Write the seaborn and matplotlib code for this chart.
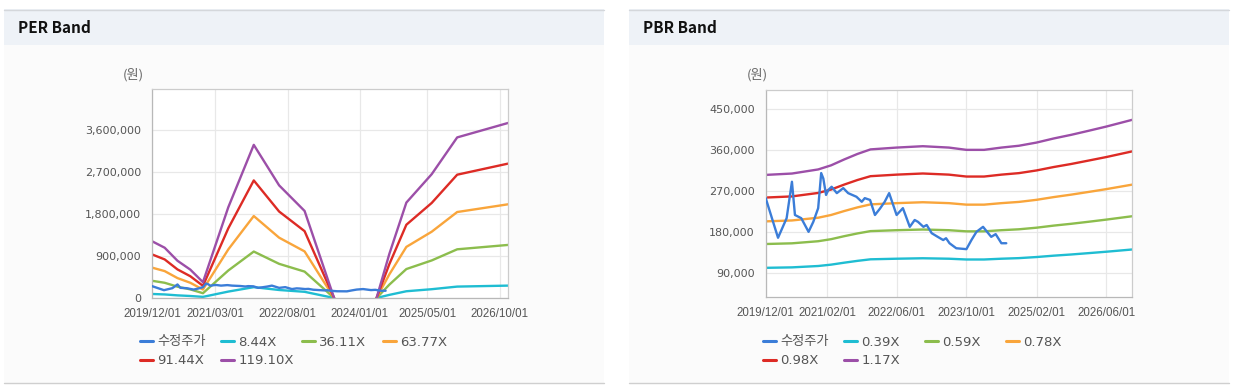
import numpy as np
import pandas as pd
import matplotlib
matplotlib.use("Agg")
import matplotlib.pyplot as plt
from matplotlib.patches import Rectangle
from matplotlib.lines import Line2D
import seaborn as sns

# ---------------- data ----------------
price_dates = ["2019-12-01", "2020-02-25", "2020-04-25", "2020-06-01", "2020-06-22", "2020-08-05",
               "2020-09-25", "2020-10-28", "2020-12-01", "2020-12-22", "2021-01-06", "2021-01-25",
               "2021-02-10", "2021-03-05", "2021-04-10", "2021-05-25", "2021-06-28", "2021-08-25",
               "2021-10-01", "2021-10-22", "2021-11-28", "2022-01-01", "2022-02-05", "2022-03-10",
               "2022-04-10", "2022-06-01", "2022-07-15", "2022-09-01", "2022-10-05", "2022-10-28",
               "2022-12-05", "2022-12-28", "2023-02-01", "2023-03-15", "2023-04-22", "2023-05-12",
               "2023-06-05", "2023-07-22", "2023-10-01", "2023-11-05", "2023-12-10", "2024-01-25",
               "2024-03-01", "2024-03-22", "2024-04-22", "2024-06-01", "2024-07-05"]
price_values = [255000, 168000, 211000, 291000, 218000, 211000,
                181000, 203000, 233000, 310000, 298000, 262000,
                273000, 280000, 266000, 277000, 266000, 258000,
                247000, 255000, 251000, 218000, 232000, 247000,
                266000, 218000, 233000, 192000, 207000, 203000,
                192000, 196000, 178000, 170000, 163000, 167000,
                156000, 145000, 143000, 163000, 181000, 192000,
                178000, 170000, 176000, 156000, 156000]

per_dates = ["2019-12-01", "2020-03-01", "2020-06-01", "2020-09-01", "2020-12-01", "2021-06-01",
             "2021-12-01", "2022-06-01", "2022-12-01", "2023-07-01", "2024-01-01", "2024-05-01",
             "2024-08-01", "2024-12-01", "2025-06-01", "2025-12-01", "2026-12-01"]
nan = float("nan")
per_8_44 = [86500, 76500, 56700, 43200, 24100, 138000, 233000, 172000, 133000, 0, nan, 0,
            67300, 145000, 189000, 245000, 266000]
per_36_11 = [370000, 327000, 243000, 185000, 103000, 591000, 998000, 734000, 567000, 0, nan, 0,
             288000, 622000, 807000, 1046000, 1140000]
per_63_77 = [653000, 578000, 428000, 327000, 182000, 1044000, 1761000, 1296000, 1001000, 0, nan, 0,
             509000, 1098000, 1424000, 1847000, 2013000]
per_91_44 = [937000, 829000, 614000, 468000, 261000, 1497000, 2526000, 1858000, 1436000, 0, nan, 0,
             729000, 1574000, 2042000, 2649000, 2887000]
per_119_10 = [1220000, 1080000, 800000, 610000, 340000, 1950000, 3290000, 2420000, 1870000, 0, nan, 0,
              950000, 2050000, 2660000, 3450000, 3760000]
per_labels = ["8.44X", "36.11X", "63.77X", "91.44X", "119.10X"]
per_xticks = ["2019/12/01", "2021/03/01", "2022/08/01", "2024/01/01", "2025/05/01", "2026/10/01"]
per_yticks = [0, 900000, 1800000, 2700000, 3600000]

pbr_dates = ["2019-12-01", "2020-06-01", "2020-12-01", "2021-03-01", "2021-06-01", "2021-09-01",
             "2021-12-01", "2022-06-01", "2022-12-01", "2023-06-01", "2023-10-01", "2024-02-01",
             "2024-06-01", "2024-10-01", "2025-02-01", "2025-06-01", "2025-10-01", "2026-02-01",
             "2026-06-01", "2026-12-01"]
pbr_0_39 = [102000, 103000, 106000, 109000, 113300, 117300, 120700, 122000, 123000, 122000,
            120300, 120300, 122000, 123300, 125700, 128700, 131300, 134300, 137300, 142300]
pbr_0_59 = [154300, 155800, 160400, 164900, 171500, 177500, 182600, 184600, 186100, 184600,
            182100, 182100, 184600, 186600, 190100, 194700, 198700, 203200, 207800, 215300]
pbr_0_78 = [204000, 206000, 212000, 218000, 226700, 234700, 241300, 244000, 246000, 244000,
            240700, 240700, 244000, 246700, 251300, 257300, 262700, 268700, 274700, 284700]
pbr_0_98 = [256300, 258800, 266400, 273900, 284800, 294800, 303200, 306600, 309100, 306600,
            302400, 302400, 306600, 309900, 315800, 323300, 330000, 337600, 345100, 357700]
pbr_1_17 = [306000, 309000, 318000, 327000, 340000, 352000, 362000, 366000, 369000, 366000,
            361000, 361000, 366000, 370000, 377000, 386000, 394000, 403000, 412000, 427000]
pbr_labels = ["0.39X", "0.59X", "0.78X", "0.98X", "1.17X"]
pbr_xticks = ["2019/12/01", "2021/02/01", "2022/06/01", "2023/10/01", "2025/02/01", "2026/06/01"]
pbr_yticks = [90000, 180000, 270000, 360000, 450000]

price_label = "수정주가"
colors = ["#3b7dd8", "#1fbdd2", "#8cbd4d", "#f9a53b", "#dd2b25", "#9c4fa8"]

# ---------------- style ----------------
sns.set_theme(style="white")
plt.rcParams["font.family"] = ["DejaVu Sans", "Noto Sans CJK KR"]
CJK = ["Noto Sans CJK KR", "DejaVu Sans"]

W, H = 1236, 385
fig = plt.figure(figsize=(W / 100, H / 100), dpi=100, facecolor="white")


def fx(px):
    return px / W


def fy(py):
    return 1 - py / H


# panels
for x0, x1, title in [(4, 604, "PER Band"), (629, 1229, "PBR Band")]:
    fig.patches.append(Rectangle((fx(x0), fy(383)), fx(x1 - x0), (383 - 45) / H,
                                 transform=fig.transFigure, facecolor="#fbfbfb",
                                 edgecolor="none", zorder=-10))
    fig.patches.append(Rectangle((fx(x0), fy(45)), fx(x1 - x0), 36 / H,
                                 transform=fig.transFigure, facecolor="#eef2f7",
                                 edgecolor="none", zorder=-10))
    fig.lines.append(Line2D([fx(x0), fx(x1)], [fy(9.5), fy(9.5)], transform=fig.transFigure,
                            color="#d4d7db", lw=1.0, zorder=-9))
    fig.lines.append(Line2D([fx(x0), fx(x1)], [fy(382.5), fy(382.5)], transform=fig.transFigure,
                            color="#cfcfcf", lw=1.0, zorder=-9))
    fig.text(fx(x0 + 14), fy(28), title, fontsize=11, fontweight="bold", color="#111111",
             va="center", ha="left", family=CJK)


def band_long(dates, series_list, labels):
    rows = []
    for vals, lab in zip(series_list, labels):
        seg = 0
        for d, v in zip(dates, vals):
            if np.isnan(v):
                seg += 1
                continue
            rows.append({"date": pd.Timestamp(d), "value": v, "series": lab, "seg": seg})
    return pd.DataFrame(rows)


price_df = pd.DataFrame({"date": pd.to_datetime(price_dates), "value": price_values})


def style_axis(ax, xtick_labels, yticks, ylim, yunit_x):
    ax.set_facecolor("white")
    ax.set_xlim(pd.Timestamp("2019-12-01"), pd.Timestamp("2026-12-01"))
    ax.set_ylim(*ylim)
    xt = [pd.Timestamp(s.replace("/", "-")) for s in xtick_labels]
    ax.set_xticks(xt)
    ax.set_xticklabels(xtick_labels, family="Liberation Sans", fontsize=8.3)
    ax.set_yticks(yticks)
    ax.set_yticklabels([f"{v:,}" for v in yticks])
    ax.grid(True, color="#e8e8e8", lw=0.9)
    ax.set_axisbelow(True)
    for s in ax.spines.values():
        s.set_visible(True)
        s.set_color("#cccccc")
        s.set_linewidth(0.9)
    ax.spines["left"].set_color("#b8b8b8")
    ax.spines["bottom"].set_color("#b8b8b8")
    ax.tick_params(axis="x", length=4, width=0.8, color="#c8c8c8", colors="#555555", pad=3)
    ax.tick_params(axis="y", length=0, colors="#555555", labelsize=8, pad=8)
    for t in ax.get_xticklabels() + ax.get_yticklabels():
        t.set_color("#555555")
    ax.set_xlabel("")
    ax.set_ylabel("")
    fig.text(fx(yunit_x), fy(75), "(원)", fontsize=9.5, color="#666666", ha="center",
             va="center", family=CJK)


def draw(ax, band_df, labels):
    sns.lineplot(data=price_df, x="date", y="value", ax=ax, color=colors[0], lw=1.7,
                 legend=False, zorder=3)
    pal = dict(zip(labels, colors[1:]))
    sns.lineplot(data=band_df, x="date", y="value", hue="series", units="seg",
                 estimator=None, palette=pal, hue_order=labels, ax=ax, lw=1.7,
                 legend=False, zorder=2)


def add_legend(x_left, labels):
    names = [price_label] + labels
    slot = 81
    for i, (name, c) in enumerate(zip(names, colors)):
        row, col = divmod(i, 4)
        leg = fig.legend([Line2D([], [], color=c, lw=2.2)], [name],
                         loc="center left",
                         bbox_to_anchor=(fx(x_left + slot * col), fy(342 + 19 * row)),
                         frameon=False, fontsize=9.5, handlelength=1.0, handletextpad=0.3,
                         borderaxespad=0, borderpad=0)
        for t in leg.get_texts():
            t.set_color("#555555")


# PER
ax1 = fig.add_axes([fx(152), fy(298), fx(356), 209 / H])
per_df = band_long(per_dates, [per_8_44, per_36_11, per_63_77, per_91_44, per_119_10], per_labels)
draw(ax1, per_df, per_labels)
style_axis(ax1, per_xticks, per_yticks, (0, 4490000), 133)
add_legend(140, per_labels)

# PBR
ax2 = fig.add_axes([fx(765.7), fy(297.3), fx(366.6), 207.3 / H])
pbr_df = band_long(pbr_dates, [pbr_0_39, pbr_0_59, pbr_0_78, pbr_0_98, pbr_1_17], pbr_labels)
draw(ax2, pbr_df, pbr_labels)
style_axis(ax2, pbr_xticks, pbr_yticks, (37300, 492400), 757)
add_legend(763, pbr_labels)

fig.savefig("out.png", dpi=100, facecolor="white")
